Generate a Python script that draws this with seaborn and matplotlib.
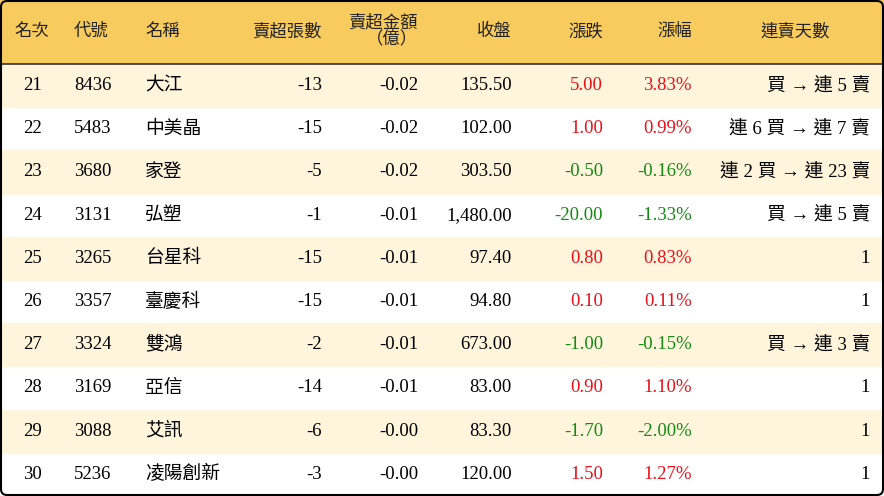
import matplotlib
matplotlib.use("Agg")
import matplotlib.pyplot as plt
import seaborn as sns
from matplotlib.patches import FancyBboxPatch

sns.set_theme(style="white")
plt.rcParams["font.family"] = ["Liberation Serif", "Noto Sans CJK TC"]

headers = ["名次", "代號", "名稱", "賣超張數", "賣超金額\n（億）", "收盤", "漲跌", "漲幅", "連賣天數"]
ranks = ["21", "22", "23", "24", "25", "26", "27", "28", "29", "30"]
codes = ["8436", "5483", "3680", "3131", "3265", "3357", "3324", "3169", "3088", "5236"]
names = ["大江", "中美晶", "家登", "弘塑", "台星科", "臺慶科", "雙鴻", "亞信", "艾訊", "凌陽創新"]
sell_qty = ["-13", "-15", "-5", "-1", "-15", "-15", "-2", "-14", "-6", "-3"]
sell_amt = ["-0.02", "-0.02", "-0.02", "-0.01", "-0.01", "-0.01", "-0.01", "-0.01", "-0.00", "-0.00"]
close = ["135.50", "102.00", "303.50", "1,480.00", "97.40", "94.80", "673.00", "83.00", "83.30", "120.00"]
change = [5.00, 1.00, -0.50, -20.00, 0.80, 0.10, -1.00, 0.90, -1.70, 1.50]
pct = [3.83, 0.99, -0.16, -1.33, 0.83, 0.11, -0.15, 1.10, -2.00, 1.27]
streak = ["買 → 連 5 賣", "連 6 買 → 連 7 賣", "連 2 買 → 連 23 賣", "買 → 連 5 賣", "1", "1",
          "買 → 連 3 賣", "1", "1", "1"]

W, H = 884, 496
fig = plt.figure(figsize=(W / 100, H / 100), dpi=100)
ax = fig.add_axes([0, 0, 1, 1])
ax.set_xlim(0, W)
ax.set_ylim(H, 0)
ax.axis("off")

head_h = 64
row_h = (H - head_h) / len(ranks)
ax.axhspan(0, head_h, color="#F8CB5E", zorder=0)
for i in range(len(ranks)):
    if i % 2 == 0:
        y0 = head_h + i * row_h
        ax.axhspan(y0, y0 + row_h, color="#FEF5DC", zorder=0)
ax.plot([0, W], [head_h, head_h], color="#333333", lw=1.2)
ax.add_patch(FancyBboxPatch((1, 1), W - 2, H - 2, boxstyle="round,pad=0,rounding_size=6",
                            fill=False, ec="black", lw=1.5, zorder=5))

fs = 13.5
hdr = [(32, "center"), (74, "left"), (145, "left"), (322, "right"), (418, "right"),
       (512, "right"), (603, "right"), (692, "right"), (795, "center")]
for (x, ha), h in zip(hdr, headers):
    ax.text(x, head_h / 2, h, ha=ha, va="center", fontsize=12.5, fontweight="medium",
            linespacing=1.0, color="#222222")

red, green = "#E8101A", "#148A14"
for i in range(len(ranks)):
    y = head_h + (i + 0.5) * row_h
    c = red if change[i] > 0 else green
    vals = [(32, "center", ranks[i], "black"), (74, "left", codes[i], "black"),
            (145, "left", names[i], "black"), (322, "right", sell_qty[i], "black"),
            (418, "right", sell_amt[i], "black"), (512, "right", close[i], "black"),
            (603, "right", f"{change[i]:.2f}", c), (692, "right", f"{pct[i]:.2f}%", c),
            (870, "right", streak[i], "black")]
    for x, ha, t, col in vals:
        ax.text(x, y, t, ha=ha, va="center", fontsize=fs, color=col)

fig.savefig("out.png", dpi=100)
